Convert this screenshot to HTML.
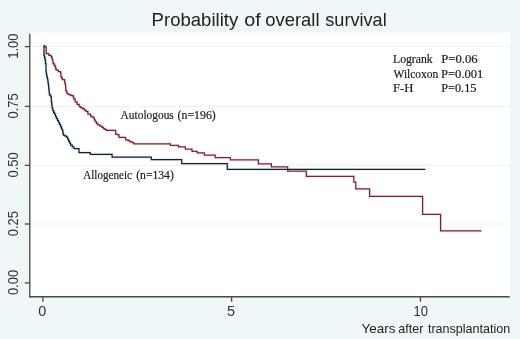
<!DOCTYPE html>
<html><head><meta charset="utf-8"><style>
html,body{margin:0;padding:0;background:#f0f7f9;}
svg{display:block;will-change:transform;}
.s{font-family:"Liberation Sans",sans-serif;fill:#222;}
.t{font-family:"Liberation Serif",serif;fill:#1a1a1a;font-size:12.2px;stroke:#1a1a1a;stroke-width:0.18px;}
</style></head><body>
<svg width="520" height="339" viewBox="0 0 520 339">
<rect x="0" y="0" width="520" height="339" fill="#f0f7f9"/>
<rect x="30" y="32.6" width="479.8" height="264.4" fill="#ffffff"/>
<line x1="30.8" y1="224.00" x2="509.8" y2="224.00" stroke="#f1f1f1" stroke-width="1"/><line x1="30.8" y1="165.35" x2="509.8" y2="165.35" stroke="#f1f1f1" stroke-width="1"/><line x1="30.8" y1="106.40" x2="509.8" y2="106.40" stroke="#f1f1f1" stroke-width="1"/><line x1="30.8" y1="46.60" x2="509.8" y2="46.60" stroke="#f1f1f1" stroke-width="1"/>
<g class="s" font-size="14.4" style="fill:#333"><text transform="translate(18.3,282.50) rotate(-90) scale(0.9,1)" text-anchor="middle">0.00</text><text transform="translate(18.3,223.60) rotate(-90) scale(0.9,1)" text-anchor="middle">0.25</text><text transform="translate(18.3,164.95) rotate(-90) scale(0.9,1)" text-anchor="middle">0.50</text><text transform="translate(18.3,106.00) rotate(-90) scale(0.9,1)" text-anchor="middle">0.75</text><text transform="translate(18.3,46.20) rotate(-90) scale(0.9,1)" text-anchor="middle">1.00</text><text transform="translate(42.30,315.8) scale(1.0,1)" text-anchor="middle">0</text><text transform="translate(231.00,315.8) scale(1.0,1)" text-anchor="middle">5</text><text transform="translate(420.70,315.8) scale(0.9,1)" text-anchor="middle">10</text></g>
<g class="s" font-size="18.2"><text x="151.6" y="26.2" textLength="86.6" lengthAdjust="spacingAndGlyphs">Probability</text><text x="244.3" y="26.2" textLength="16.5" lengthAdjust="spacingAndGlyphs">of</text><text x="265.2" y="26.2" textLength="54.3" lengthAdjust="spacingAndGlyphs">overall</text><text x="325.3" y="26.2" textLength="61.4" lengthAdjust="spacingAndGlyphs">survival</text></g>
<g class="s" font-size="13.4"><text x="361.5" y="333.4" textLength="34.0" lengthAdjust="spacingAndGlyphs">Years</text><text x="398.3" y="333.4" textLength="25.0" lengthAdjust="spacingAndGlyphs">after</text><text x="427.9" y="333.4" textLength="82.3" lengthAdjust="spacingAndGlyphs">transplantation</text></g>
<path d="M43.60,45.80 L45.00,45.80 L45.00,46.80 L46.20,46.80 L46.20,48.00 L46.20,53.60 L48.80,53.60 L48.80,55.30 L51.10,55.30 L51.10,56.60 L51.75,56.60 L51.75,58.15 L52.40,58.15 L52.40,59.70 L52.75,59.70 L52.75,61.60 L53.10,61.60 L53.10,63.50 L54.20,63.50 L54.20,65.30 L55.30,65.30 L55.30,67.10 L55.75,67.10 L55.75,68.65 L56.20,68.65 L56.20,70.20 L58.40,70.20 L58.40,71.50 L60.60,71.50 L60.60,73.30 L61.00,73.30 L61.00,76.80 L61.70,76.80 L61.70,78.15 L62.40,78.15 L62.40,79.50 L64.60,79.50 L64.60,82.10 L65.05,82.10 L65.05,83.80 L65.50,83.80 L65.50,85.50 L65.70,85.50 L65.70,90.30 L66.45,90.30 L66.45,92.05 L67.20,92.05 L67.20,93.80 L68.75,93.80 L68.75,94.50 L70.30,94.50 L70.30,95.20 L71.65,95.20 L71.65,95.65 L73.00,95.65 L73.00,96.10 L73.45,96.10 L73.45,97.65 L73.90,97.65 L73.90,99.20 L75.20,99.20 L75.20,101.80 L77.00,101.80 L77.00,104.30 L79.20,104.30 L79.20,106.70 L81.00,106.70 L81.00,107.75 L82.80,107.75 L82.80,108.80 L84.35,108.80 L84.35,110.10 L85.90,110.10 L85.90,111.40 L87.90,111.40 L87.90,114.00 L90.50,114.00 L90.50,116.00 L92.05,116.00 L92.05,117.05 L93.60,117.05 L93.60,118.10 L94.40,118.10 L94.40,119.90 L95.20,119.90 L95.20,121.70 L96.45,121.70 L96.45,123.25 L97.70,123.25 L97.70,124.80 L99.80,124.80 L99.80,126.10 L101.90,126.10 L101.90,127.40 L103.45,127.40 L103.45,128.50 L105.00,128.50 L105.00,129.60 L106.70,129.60 L106.70,130.30 L114.90,130.30 L115.70,130.30 L115.70,134.40 L117.80,134.40 L117.80,134.80 L119.00,134.80 L119.00,137.40 L124.40,137.40 L124.40,137.70 L125.70,137.70 L125.70,139.80 L128.10,139.80 L128.10,140.60 L129.80,140.60 L129.80,141.80 L132.30,141.80 L132.30,142.70 L133.90,142.70 L133.90,143.90 L170.40,143.90 L170.40,145.30 L178.50,145.30 L178.50,146.80 L185.40,146.80 L185.40,149.00 L192.00,149.00 L192.00,151.30 L197.20,151.30 L197.20,152.90 L204.40,152.90 L204.40,155.10 L215.20,155.10 L215.20,157.50 L230.40,157.50 L230.40,159.80 L258.40,159.80 L258.40,163.90 L271.40,163.90 L271.40,166.80 L287.60,166.80 L287.60,171.10 L306.30,171.10 L306.30,176.30 L353.80,176.30 L353.80,182.10 L355.80,182.10 L355.80,188.80 L369.60,188.80 L369.60,196.40 L422.60,196.40 L422.60,214.30 L440.60,214.30 L440.60,230.90 L481.50,230.90" fill="none" stroke="#faecef" stroke-width="3.2" stroke-linejoin="miter"/>
<path d="M43.60,45.80 L44.00,45.80 L44.00,55.00 L44.37,55.00 L44.37,56.67 L44.73,56.67 L44.73,58.33 L45.10,58.33 L45.10,60.00 L45.50,60.00 L45.50,63.50 L46.00,63.50 L46.00,71.50 L46.30,71.50 L46.30,73.27 L46.60,73.27 L46.60,75.03 L46.90,75.03 L46.90,76.80 L47.35,76.80 L47.35,78.80 L47.80,78.80 L47.80,80.80 L48.07,80.80 L48.07,82.87 L48.33,82.87 L48.33,84.93 L48.60,84.93 L48.60,87.00 L48.78,87.00 L48.78,88.64 L48.96,88.64 L48.96,90.28 L49.14,90.28 L49.14,91.92 L49.32,91.92 L49.32,93.56 L49.50,93.56 L49.50,95.20 L50.80,95.20 L50.80,96.50 L51.30,96.50 L51.30,100.90 L51.52,100.90 L51.52,102.68 L51.75,102.68 L51.75,104.45 L51.98,104.45 L51.98,106.22 L52.20,106.22 L52.20,108.00 L52.80,108.00 L52.80,110.50 L53.65,110.50 L53.65,112.25 L54.50,112.25 L54.50,114.00 L55.50,114.00 L55.50,116.60 L56.53,116.60 L56.53,118.60 L57.57,118.60 L57.57,120.60 L58.60,120.60 L58.60,122.60 L59.60,122.60 L59.60,124.60 L60.60,124.60 L60.60,126.60 L61.27,126.60 L61.27,128.13 L61.93,128.13 L61.93,129.67 L62.60,129.67 L62.60,131.20 L62.95,131.20 L62.95,133.20 L63.30,133.20 L63.30,135.20 L64.95,135.20 L64.95,136.20 L66.60,136.20 L66.60,137.20 L67.60,137.20 L67.60,139.20 L68.60,139.20 L68.60,141.20 L69.60,141.20 L69.60,143.15 L70.60,143.15 L70.60,145.10 L72.25,145.10 L72.25,146.80 L73.90,146.80 L73.90,148.50 L78.90,148.50 L78.90,149.10 L79.00,149.10 L79.00,152.60 L90.20,152.60 L90.20,154.40 L112.10,154.40 L112.10,157.10 L151.30,157.10 L151.30,159.60 L181.70,159.60 L181.70,163.60 L227.30,163.60 L227.30,169.40 L425.30,169.40" fill="none" stroke="#ebf2f6" stroke-width="3.2" stroke-linejoin="miter"/>
<path d="M43.60,45.80 L45.00,45.80 L45.00,46.80 L46.20,46.80 L46.20,48.00 L46.20,53.60 L48.80,53.60 L48.80,55.30 L51.10,55.30 L51.10,56.60 L51.75,56.60 L51.75,58.15 L52.40,58.15 L52.40,59.70 L52.75,59.70 L52.75,61.60 L53.10,61.60 L53.10,63.50 L54.20,63.50 L54.20,65.30 L55.30,65.30 L55.30,67.10 L55.75,67.10 L55.75,68.65 L56.20,68.65 L56.20,70.20 L58.40,70.20 L58.40,71.50 L60.60,71.50 L60.60,73.30 L61.00,73.30 L61.00,76.80 L61.70,76.80 L61.70,78.15 L62.40,78.15 L62.40,79.50 L64.60,79.50 L64.60,82.10 L65.05,82.10 L65.05,83.80 L65.50,83.80 L65.50,85.50 L65.70,85.50 L65.70,90.30 L66.45,90.30 L66.45,92.05 L67.20,92.05 L67.20,93.80 L68.75,93.80 L68.75,94.50 L70.30,94.50 L70.30,95.20 L71.65,95.20 L71.65,95.65 L73.00,95.65 L73.00,96.10 L73.45,96.10 L73.45,97.65 L73.90,97.65 L73.90,99.20 L75.20,99.20 L75.20,101.80 L77.00,101.80 L77.00,104.30 L79.20,104.30 L79.20,106.70 L81.00,106.70 L81.00,107.75 L82.80,107.75 L82.80,108.80 L84.35,108.80 L84.35,110.10 L85.90,110.10 L85.90,111.40 L87.90,111.40 L87.90,114.00 L90.50,114.00 L90.50,116.00 L92.05,116.00 L92.05,117.05 L93.60,117.05 L93.60,118.10 L94.40,118.10 L94.40,119.90 L95.20,119.90 L95.20,121.70 L96.45,121.70 L96.45,123.25 L97.70,123.25 L97.70,124.80 L99.80,124.80 L99.80,126.10 L101.90,126.10 L101.90,127.40 L103.45,127.40 L103.45,128.50 L105.00,128.50 L105.00,129.60 L106.70,129.60 L106.70,130.30 L114.90,130.30 L115.70,130.30 L115.70,134.40 L117.80,134.40 L117.80,134.80 L119.00,134.80 L119.00,137.40 L124.40,137.40 L124.40,137.70 L125.70,137.70 L125.70,139.80 L128.10,139.80 L128.10,140.60 L129.80,140.60 L129.80,141.80 L132.30,141.80 L132.30,142.70 L133.90,142.70 L133.90,143.90 L170.40,143.90 L170.40,145.30 L178.50,145.30 L178.50,146.80 L185.40,146.80 L185.40,149.00 L192.00,149.00 L192.00,151.30 L197.20,151.30 L197.20,152.90 L204.40,152.90 L204.40,155.10 L215.20,155.10 L215.20,157.50 L230.40,157.50 L230.40,159.80 L258.40,159.80 L258.40,163.90 L271.40,163.90 L271.40,166.80 L287.60,166.80 L287.60,171.10 L306.30,171.10 L306.30,176.30 L353.80,176.30 L353.80,182.10 L355.80,182.10 L355.80,188.80 L369.60,188.80 L369.60,196.40 L422.60,196.40 L422.60,214.30 L440.60,214.30 L440.60,230.90 L481.50,230.90" fill="none" stroke="#742638" stroke-width="1.25" stroke-linejoin="miter"/>
<path d="M43.60,45.80 L44.00,45.80 L44.00,55.00 L44.37,55.00 L44.37,56.67 L44.73,56.67 L44.73,58.33 L45.10,58.33 L45.10,60.00 L45.50,60.00 L45.50,63.50 L46.00,63.50 L46.00,71.50 L46.30,71.50 L46.30,73.27 L46.60,73.27 L46.60,75.03 L46.90,75.03 L46.90,76.80 L47.35,76.80 L47.35,78.80 L47.80,78.80 L47.80,80.80 L48.07,80.80 L48.07,82.87 L48.33,82.87 L48.33,84.93 L48.60,84.93 L48.60,87.00 L48.78,87.00 L48.78,88.64 L48.96,88.64 L48.96,90.28 L49.14,90.28 L49.14,91.92 L49.32,91.92 L49.32,93.56 L49.50,93.56 L49.50,95.20 L50.80,95.20 L50.80,96.50 L51.30,96.50 L51.30,100.90 L51.52,100.90 L51.52,102.68 L51.75,102.68 L51.75,104.45 L51.98,104.45 L51.98,106.22 L52.20,106.22 L52.20,108.00 L52.80,108.00 L52.80,110.50 L53.65,110.50 L53.65,112.25 L54.50,112.25 L54.50,114.00 L55.50,114.00 L55.50,116.60 L56.53,116.60 L56.53,118.60 L57.57,118.60 L57.57,120.60 L58.60,120.60 L58.60,122.60 L59.60,122.60 L59.60,124.60 L60.60,124.60 L60.60,126.60 L61.27,126.60 L61.27,128.13 L61.93,128.13 L61.93,129.67 L62.60,129.67 L62.60,131.20 L62.95,131.20 L62.95,133.20 L63.30,133.20 L63.30,135.20 L64.95,135.20 L64.95,136.20 L66.60,136.20 L66.60,137.20 L67.60,137.20 L67.60,139.20 L68.60,139.20 L68.60,141.20 L69.60,141.20 L69.60,143.15 L70.60,143.15 L70.60,145.10 L72.25,145.10 L72.25,146.80 L73.90,146.80 L73.90,148.50 L78.90,148.50 L78.90,149.10 L79.00,149.10 L79.00,152.60 L90.20,152.60 L90.20,154.40 L112.10,154.40 L112.10,157.10 L151.30,157.10 L151.30,159.60 L181.70,159.60 L181.70,163.60 L227.30,163.60 L227.30,169.40 L425.30,169.40" fill="none" stroke="#102236" stroke-width="1.25" stroke-linejoin="miter"/>
<line x1="29.8" y1="33.8" x2="29.8" y2="297.4" stroke="#4a4a4a" stroke-width="1.35"/>
<line x1="29.1" y1="296.7" x2="509.8" y2="296.7" stroke="#4a4a4a" stroke-width="1.35"/>
<line x1="24.8" y1="282.90" x2="29.8" y2="282.90" stroke="#4a4a4a" stroke-width="1.35"/><line x1="24.8" y1="224.00" x2="29.8" y2="224.00" stroke="#4a4a4a" stroke-width="1.35"/><line x1="24.8" y1="165.35" x2="29.8" y2="165.35" stroke="#4a4a4a" stroke-width="1.35"/><line x1="24.8" y1="106.40" x2="29.8" y2="106.40" stroke="#4a4a4a" stroke-width="1.35"/><line x1="24.8" y1="46.60" x2="29.8" y2="46.60" stroke="#4a4a4a" stroke-width="1.35"/><line x1="42.80" y1="296.7" x2="42.80" y2="301.7" stroke="#4a4a4a" stroke-width="1.35"/><line x1="231.60" y1="296.7" x2="231.60" y2="301.7" stroke="#4a4a4a" stroke-width="1.35"/><line x1="420.40" y1="296.7" x2="420.40" y2="301.7" stroke="#4a4a4a" stroke-width="1.35"/>
<text class="t" x="120.6" y="119.2" textLength="53.2" lengthAdjust="spacingAndGlyphs">Autologous</text><text class="t" x="177.6" y="119.2" textLength="38.2" lengthAdjust="spacingAndGlyphs">(n=196)</text>
<text class="t" x="83.3" y="178.8" textLength="48.6" lengthAdjust="spacingAndGlyphs">Allogeneic</text><text class="t" x="136.2" y="178.8" textLength="37.6" lengthAdjust="spacingAndGlyphs">(n=134)</text>
<text class="t" x="393" y="63.4" textLength="39.6" lengthAdjust="spacingAndGlyphs">Logrank</text>
<text class="t" x="393.6" y="78" textLength="44.6" lengthAdjust="spacingAndGlyphs">Wilcoxon</text>
<text class="t" x="393.0" y="92.4" textLength="20.4" lengthAdjust="spacingAndGlyphs">F-H</text>
<text class="t" x="441.2" y="63.4" textLength="36.5" lengthAdjust="spacingAndGlyphs">P=0.06</text>
<text class="t" x="441.0" y="78" textLength="42.4" lengthAdjust="spacingAndGlyphs">P=0.001</text>
<text class="t" x="441.2" y="92.4" textLength="35.3" lengthAdjust="spacingAndGlyphs">P=0.15</text>
</svg>
</body></html>
